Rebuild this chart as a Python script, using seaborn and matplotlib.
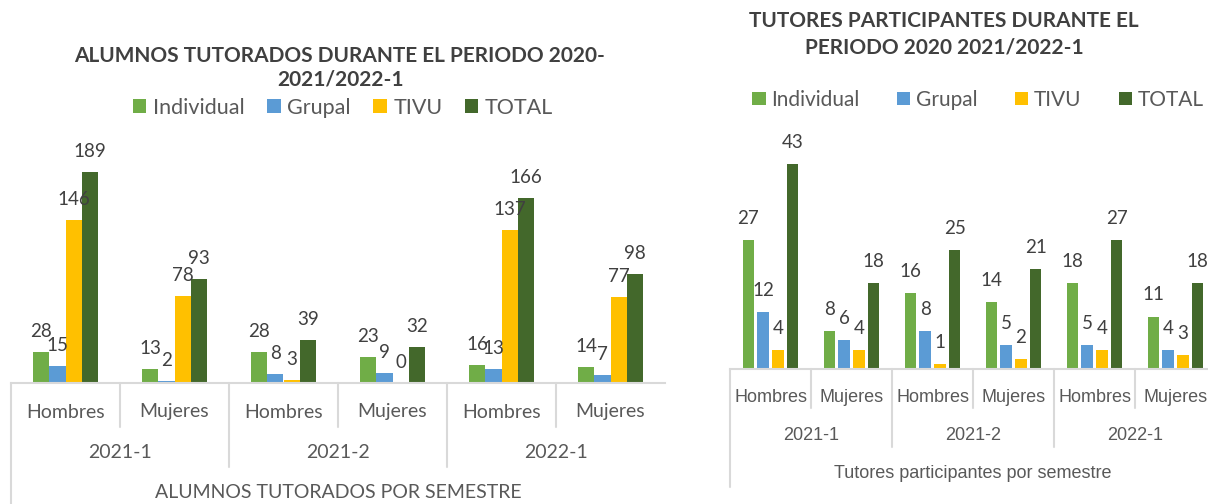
import pandas as pd
import matplotlib.pyplot as plt
import seaborn as sns
from matplotlib.transforms import blended_transform_factory

# datos
semestres = ["2021-1", "2021-2", "2022-1"]
sexos = ["Hombres", "Mujeres"]
series = ["Individual", "Grupal", "TIVU", "TOTAL"]
colores = ["#70AD47", "#5B9BD5", "#FFC000", "#43682B"]

# orden: 2021-1 H, 2021-1 M, 2021-2 H, 2021-2 M, 2022-1 H, 2022-1 M
alumnos_individual = [28, 13, 28, 23, 16, 14]
alumnos_grupal = [15, 2, 8, 9, 13, 7]
alumnos_tivu = [146, 78, 3, 0, 137, 77]
alumnos_total = [189, 93, 39, 32, 166, 98]

tutores_individual = [27, 8, 16, 14, 18, 11]
tutores_grupal = [12, 6, 8, 5, 5, 4]
tutores_tivu = [4, 4, 1, 2, 4, 3]
tutores_total = [43, 18, 25, 21, 27, 18]

W, H = 1208, 504
GRIS = "#D9D9D9"
TXT = "#595959"
OSCURO = "#404040"


def armar_df(valores):
    filas = []
    for serie, vals in zip(series, valores):
        for i, v in enumerate(vals):
            filas.append({"cat": i, "serie": serie, "valor": v})
    return pd.DataFrame(filas)


def grafica(ax, valores, alto_px, ymax, ancho, gap, pad, fs_val, fam_cat, fs_cat,
            d_cat, d_sem, d_tit, lineas, titulo_eje):
    df = armar_df(valores)
    sns.barplot(data=df, x="cat", y="valor", hue="serie", hue_order=series,
                palette=colores, saturation=1, width=ancho, gap=gap,
                linewidth=0, errorbar=None, legend=True, ax=ax)
    handles, labels = ax.get_legend_handles_labels()
    ax.get_legend().remove()

    # etiquetas de datos
    for cont, vals in zip(ax.containers, valores):
        ax.bar_label(cont, labels=[str(v) for v in vals], padding=pad,
                     fontsize=fs_val, color=OSCURO, family="Lato")

    ax.set_xlim(-0.5, 5.5)
    ax.set_ylim(0, ymax)
    ax.set_xticks([])
    ax.set_yticks([])
    ax.set_xlabel("")
    ax.set_ylabel("")
    for s in ["top", "left", "right"]:
        ax.spines[s].set_visible(False)
    ax.spines["bottom"].set_color(GRIS)
    ax.spines["bottom"].set_linewidth(1.5)

    # eje de categorias en dos niveles
    tr = blended_transform_factory(ax.transData, ax.transAxes)

    def fy(px):
        return -px / alto_px

    for i in range(6):
        ax.text(i, fy(d_cat), sexos[i % 2], transform=tr, ha="center", va="center",
                fontsize=fs_cat, color=TXT, family=fam_cat)
    for g, sem in enumerate(semestres):
        ax.text(2 * g + 0.5, fy(d_sem), sem, transform=tr, ha="center", va="center",
                fontsize=fs_cat, color=TXT, family=fam_cat)
    ax.text(0.5, fy(d_tit), titulo_eje, transform=ax.transAxes, ha="center",
            va="center", fontsize=fs_cat, color=TXT, family=fam_cat)

    for x, largo in lineas:
        ax.plot([x, x], [0, fy(largo)], transform=tr, clip_on=False,
                color=GRIS, lw=1.5)
    return handles, labels


sns.set_theme(style="white")
plt.rcParams["font.family"] = ["Lato", "DejaVu Sans"]

fig = plt.figure(figsize=(W / 100, H / 100), dpi=100)

# ---- grafica izquierda: alumnos ----
alto_izq = 233
ax1 = fig.add_axes([11 / W, (H - 383) / H, 654 / W, alto_izq / H])
handles, labels = grafica(
    ax1,
    [alumnos_individual, alumnos_grupal, alumnos_tivu, alumnos_total],
    alto_izq, 209, 0.6, 0, 8.6, 13.5, "Lato", 14,
    29, 70, 110,
    [(-0.5, 125), (0.5, 44), (1.5, 84), (2.5, 44), (3.5, 84), (4.5, 44)],
    "ALUMNOS TUTORADOS POR SEMESTRE",
)
fig.text(340 / W, 1 - 68 / H,
         "ALUMNOS TUTORADOS DURANTE EL PERIODO 2020-\n2021/2022-1",
         ha="center", va="center", fontsize=15, fontweight="bold",
         color=OSCURO, linespacing=1.25)
fig.legend(handles, labels, loc="center", bbox_to_anchor=(343 / W, 1 - 108 / H),
           ncol=4, frameon=False, fontsize=15.5, labelcolor=TXT,
           handlelength=0.63, handleheight=0.63, handletextpad=0.3,
           columnspacing=1.05, borderpad=0, borderaxespad=0)

# ---- grafica derecha: tutores ----
alto_der = 219.3
ax2 = fig.add_axes([730 / W, (H - 369) / H, 486 / W, alto_der / H])
handles, labels = grafica(
    ax2,
    [tutores_individual, tutores_grupal, tutores_tivu, tutores_total],
    alto_der, 46, 0.726, 0.2, 9.5, 13.5, "Liberation Sans", 13,
    28, 66, 104,
    [(-0.5, 118), (0.5, 39), (1.5, 78), (2.5, 39), (3.5, 78), (4.5, 39)],
    "Tutores participantes por semestre",
)
fig.text(944 / W, 1 - 34 / H,
         "TUTORES PARTICIPANTES DURANTE EL\nPERIODO 2020 2021/2022-1",
         ha="center", va="center", fontsize=15, fontweight="bold",
         color=OSCURO, linespacing=1.4)
fig.legend(handles, labels, loc="center", bbox_to_anchor=(978 / W, 1 - 100 / H),
           ncol=4, frameon=False, fontsize=15, labelcolor=TXT,
           handlelength=0.63, handleheight=0.63, handletextpad=0.27,
           columnspacing=1.8, borderpad=0, borderaxespad=0)

fig.savefig("out.png", dpi=100)
